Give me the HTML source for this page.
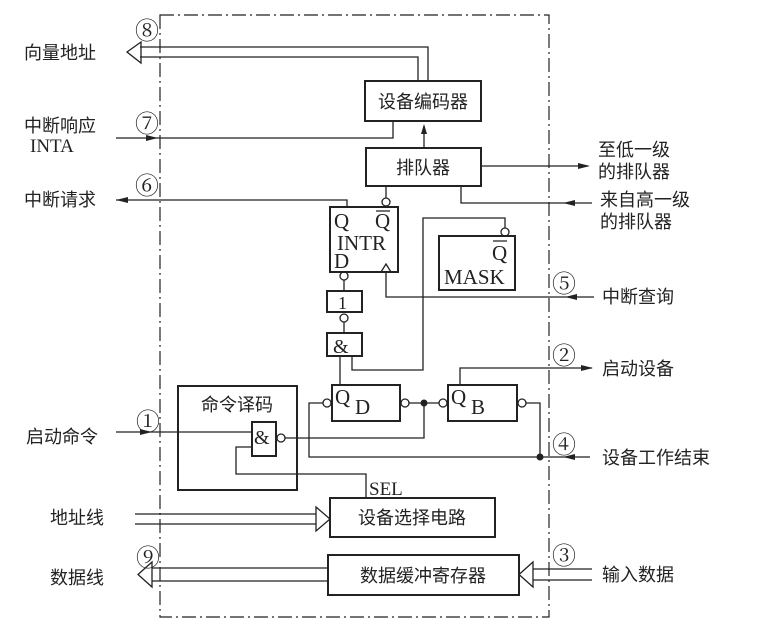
<!DOCTYPE html>
<html><head><meta charset="utf-8"><style>
html,body{margin:0;padding:0;background:#fff;}
svg{display:block;}
text{font-family:"Liberation Serif","Noto Serif CJK SC","Noto Sans CJK SC",serif;fill:#222;}
.cj{font-family:"Liberation Sans","Noto Sans CJK SC",sans-serif;font-size:18px;}
</style></head><body>
<svg width="758" height="633" viewBox="0 0 758 633" xmlns="http://www.w3.org/2000/svg">
<g fill="none" stroke="#222" stroke-width="1.3">
<rect x="160" y="15" width="389" height="602" stroke-dasharray="14,4,2,4" stroke-width="1.2"/>
<rect x="365" y="81" width="116" height="40" stroke-width="2"/>
<rect x="366" y="148" width="115" height="38" stroke-width="2"/>
<rect x="330" y="207" width="68" height="65" stroke-width="2"/>
<rect x="439" y="236" width="76" height="54" stroke-width="2"/>
<rect x="327" y="291" width="35" height="21" stroke-width="2"/>
<rect x="327" y="333" width="35" height="23" stroke-width="2"/>
<rect x="332" y="385" width="68" height="36" stroke-width="2"/>
<rect x="448" y="385" width="69" height="36" stroke-width="2"/>
<rect x="178" y="386" width="119" height="104" stroke-width="2"/>
<rect x="252" y="422" width="24" height="34" stroke-width="2"/>
<rect x="330" y="498" width="165" height="39" stroke-width="2"/>
<rect x="328" y="555" width="191" height="40" stroke-width="2"/>
<path d="M428,81 V47 H140 M418,81 V57 H140 M141,42 L127,52 L141,63 Z"/>
<path d="M116,138 H393 V121"/>
<path d="M424,148 V126"/>
<path d="M116,200 H347 V207"/>
<path d="M386,186 V198"/>
<circle cx="386" cy="202" r="4"/>
<path d="M481,166 H588"/>
<path d="M461,186 V203 H592"/>
<circle cx="505" cy="232" r="4"/>
<path d="M505,228 V218 H423 V370 H352 V356"/>
<path d="M381,272 L386,264 L391,272"/>
<path d="M386,272 V297 H594"/>
<circle cx="344" cy="276" r="4"/><path d="M344,280 V291"/>
<circle cx="344" cy="318" r="4"/><path d="M344,322 V333"/>
<path d="M340,356 V385"/>
<path d="M460,385 V368 H592"/>
<circle cx="327" cy="403" r="4"/>
<path d="M323,403 H309 V457 H540"/>
<circle cx="405" cy="403" r="4"/>
<path d="M409,403 H439"/>
<circle cx="443" cy="403" r="4"/>
<circle cx="522" cy="403" r="4"/>
<path d="M526,403 H540 V457 H590"/>
<path d="M424,403 V438 H285"/>
<circle cx="281" cy="438" r="4"/>
<path d="M116,432 H252"/>
<path d="M252,447 H236 V474 H366 V498"/>
<path d="M135,514 H316 M135,524 H316 M316,507 L330,519 L316,531 Z"/>
<path d="M328,568 H152 M328,581 H152 M152,562 L138,574.5 L152,587 Z"/>
<path d="M592,569 H533 M592,580 H533 M533,562 L519,574.5 L533,587 Z"/>
</g>
<g fill="#222" stroke="none">
<circle cx="424" cy="403" r="3.5"/>
<circle cx="540" cy="457" r="3.5"/>
<path d="M424,124 L421,134 L427,134 Z"/>
<path d="M158,138 L146,135 L146,141 Z"/>
<path d="M116,200 L128,197 L128,203 Z"/>
<path d="M590,166 L578,163 L578,169 Z"/>
<path d="M563,203 L575,200 L575,206 Z"/>
<path d="M565,297 L577,294 L577,300 Z"/>
<path d="M593,368 L581,365 L581,371 Z"/>
<path d="M563,457 L575,454 L575,460 Z"/>
<path d="M152,432 L140,429 L140,435 Z"/>
</g>
<text class="cj" x="423" y="108" text-anchor="middle" font-size="19">设备编码器</text>
<text class="cj" x="423" y="174" text-anchor="middle" font-size="19">排队器</text>
<text class="cj" x="237" y="411" text-anchor="middle" font-size="19">命令译码</text>
<text class="cj" x="412" y="524" text-anchor="middle" font-size="19">设备选择电路</text>
<text class="cj" x="423" y="582" text-anchor="middle" font-size="19">数据缓冲寄存器</text>
<g font-size="21">
<text x="334" y="228">Q</text><text x="375" y="228">Q</text>
<text x="337" y="250">INTR</text><text x="334" y="268">D</text>
<text x="492" y="260">Q</text><text x="444" y="284">MASK</text>
<text x="338" y="309" font-size="18">1</text>
<text x="333" y="353" font-size="20">&amp;</text>
<text x="335" y="404">Q</text><text x="355" y="414">D</text>
<text x="451" y="404">Q</text><text x="471" y="414">B</text>
<text x="254" y="444" font-size="20">&amp;</text>
<text x="369" y="495" font-size="19">SEL</text>
<text x="30" y="152" font-size="19">INTA</text>
</g>
<path d="M376,211 H390 M493,241 H507" stroke="#222" stroke-width="1.2"/>
<g>
<text class="cj" x="24" y="59">向量地址</text>
<text class="cj" x="24" y="132">中断响应</text>
<text class="cj" x="24" y="206">中断请求</text>
<text class="cj" x="26" y="443">启动命令</text>
<text class="cj" x="50" y="524">地址线</text>
<text class="cj" x="50" y="584">数据线</text>
<text class="cj" x="598" y="156">至低一级</text>
<text class="cj" x="598" y="178">的排队器</text>
<text class="cj" x="600" y="206">来自高一级</text>
<text class="cj" x="600" y="228">的排队器</text>
<text class="cj" x="602" y="303">中断查询</text>
<text class="cj" x="602" y="375">启动设备</text>
<text class="cj" x="602" y="464">设备工作结束</text>
<text class="cj" x="602" y="581">输入数据</text>
</g>
<g font-size="24" font-family="Liberation Serif,DejaVu Sans,serif">
<text x="135" y="39">⑧</text>
<text x="135" y="132">⑦</text>
<text x="135" y="194">⑥</text>
<text x="136" y="430">①</text>
<text x="136" y="566">⑨</text>
<text x="552" y="292">⑤</text>
<text x="552" y="364">②</text>
<text x="552" y="453">④</text>
<text x="552" y="564">③</text>
</g>
</svg>
</body></html>
